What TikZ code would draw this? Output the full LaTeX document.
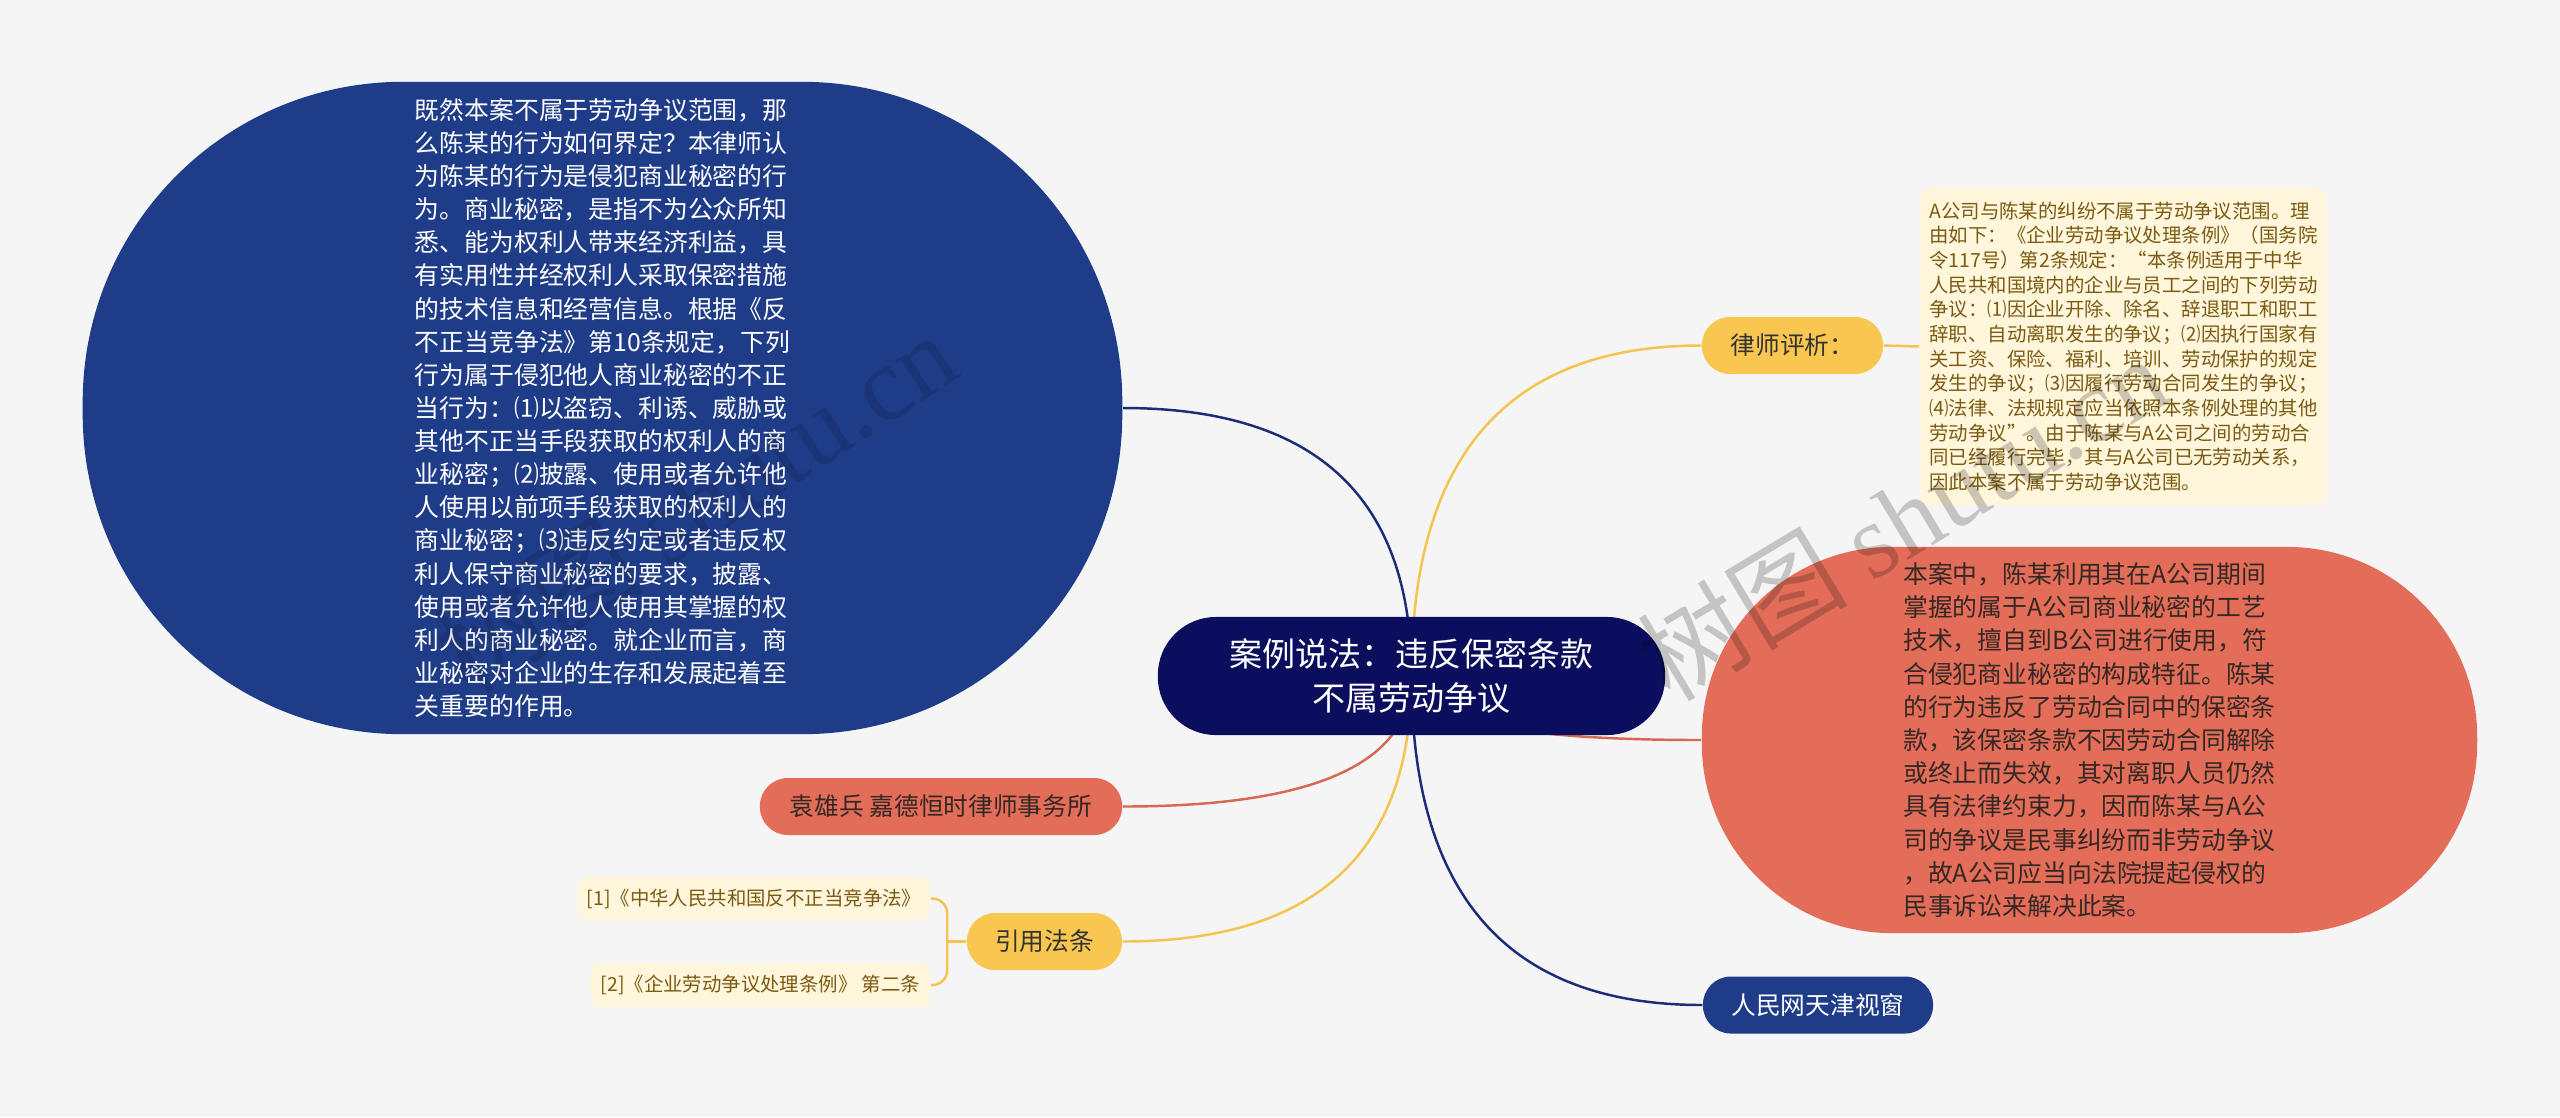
\documentclass[tikz,border=0pt]{standalone}
\usepackage{fontspec}
\setmainfont{Noto Sans CJK SC}
\newfontfamily\markserif{Liberation Serif}
\usetikzlibrary{backgrounds,calc}
\definecolor{canvas}{RGB}{245,245,245}
\definecolor{rootfill}{RGB}{10,14,92}
\definecolor{deepblue}{RGB}{31,60,136}
\definecolor{coral}{RGB}{227,109,88}
\definecolor{amber}{RGB}{249,198,79}
\definecolor{cream}{RGB}{255,246,220}
\definecolor{umber}{RGB}{124,90,18}
\definecolor{ink}{RGB}{51,40,36}
\definecolor{bluelink}{RGB}{27,45,120}
\definecolor{corallink}{RGB}{214,104,84}
\definecolor{amberlink}{RGB}{244,196,78}

\begin{document}
\begin{tikzpicture}[
  x=0.01cm,y=-0.01cm,
  pill/.style={rectangle,inner sep=0pt,align=center},
  root/.style={pill,fill=rootfill,text=white,minimum width=5.07cm,minimum height=1.18cm,
               rounded corners=0.58cm,font=\fontsize{9.39pt}{12.52pt}\selectfont},
  bigblue/.style={pill,fill=deepblue,text=white,align=left,minimum width=10.39cm,
                  minimum height=6.52cm,rounded corners=3.2cm,
                  font=\fontsize{7.06pt}{9.42pt}\selectfont},
  bigcoral/.style={pill,fill=coral,text=ink,align=left,minimum width=7.75cm,
                   minimum height=3.86cm,rounded corners=1.9cm,
                   font=\fontsize{7.06pt}{9.45pt}\selectfont},
  tag/.style={pill,minimum height=0.57cm,rounded corners=0.28cm,
              font=\fontsize{7.03pt}{8.5pt}\selectfont},
  amtag/.style={tag,fill=amber,text=black!80},
  cotag/.style={tag,fill=coral,text=ink},
  bltag/.style={tag,fill=deepblue,text=white},
  note/.style={rectangle,inner sep=0pt,fill=cream,text=umber,rounded corners=0.1cm,
               font=\fontsize{5.52pt}{7.01pt}\selectfont},
  branch/.style={line width=0.7pt},
  wmark/.style={inner sep=0pt,text=black,text opacity=0.2,font=\fontsize{30pt}{32pt}\selectfont}
]
% Root and first-level topics.
\node[root] (root) at (1411.5,676) {案例说法：违反保密条款\\不属劳动争议};

\node[bigblue] (case) at (602.5,408) {既然本案不属于劳动争议范围，那\\
么陈某的行为如何界定？本律师认\\
为陈某的行为是侵犯商业秘密的行\\
为。商业秘密，是指不为公众所知\\
悉、能为权利人带来经济利益，具\\
有实用性并经权利人采取保密措施\\
的技术信息和经营信息。根据《反\\
不正当竞争法》第10条规定，下列\\
行为属于侵犯他人商业秘密的不正\\
当行为：⑴以盗窃、利诱、威胁或\\
其他不正当手段获取的权利人的商\\
业秘密；⑵披露、使用或者允许他\\
人使用以前项手段获取的权利人的\\
商业秘密；⑶违反约定或者违反权\\
利人保守商业秘密的要求，披露、\\
使用或者允许他人使用其掌握的权\\
利人的商业秘密。就企业而言，商\\
业秘密对企业的生存和发展起着至\\
关重要的作用。};

\node[amtag,minimum width=1.81cm] (review) at (1792.5,345.5) {律师评析：};
\node[note,align=left,minimum width=4.07cm,minimum height=3.17cm] (reviewnote) at (2123.5,346.5)
{A公司与陈某的纠纷不属于劳动争议范围。理\\
由如下：《企业劳动争议处理条例》（国务院\\
令117号）第2条规定：“本条例适用于中华\\
人民共和国境内的企业与员工之间的下列劳动\\
争议：⑴因企业开除、除名、辞退职工和职工\\
辞职、自动离职发生的争议；⑵因执行国家有\\
关工资、保险、福利、培训、劳动保护的规定\\
发生的争议；⑶因履行劳动合同发生的争议；\\
⑷法律、法规规定应当依照本条例处理的其他\\
劳动争议”。由于陈某与A公司之间的劳动合\\
同已经履行完毕，其与A公司已无劳动关系，\\
因此本案不属于劳动争议范围。};

\node[bigcoral] (analysis) at (2089.5,740) {本案中，陈某利用其在A公司期间\\
掌握的属于A公司商业秘密的工艺\\
技术，擅自到B公司进行使用，符\\
合侵犯商业秘密的构成特征。陈某\\
的行为违反了劳动合同中的保密条\\
款，该保密条款不因劳动合同解除\\
或终止而失效，其对离职人员仍然\\
具有法律约束力，因而陈某与A公\\
司的争议是民事纠纷而非劳动争议\\
，故A公司应当向法院提起侵权的\\
民事诉讼来解决此案。};

\node[bltag,minimum width=2.30cm] (source) at (1818,1005) {人民网天津视窗};
\node[cotag,minimum width=3.62cm] (author) at (941,806.5) {袁雄兵 嘉德恒时律师事务所};
\node[amtag,minimum width=1.55cm] (cite) at (1044.5,941.5) {引用法条};
\node[note,minimum width=3.52cm,minimum height=0.43cm] (ref1) at (754,898.5)
  {[1]《中华人民共和国反不正当竞争法》};
\node[note,minimum width=3.39cm,minimum height=0.44cm] (ref2) at (760.5,985)
  {[2]《企业劳动争议处理条例》 第二条};

% Branches leave the root vertically and level out at their topic.
\coordinate (bcase)     at (root.center |- case.east);
\coordinate (breview)   at (root.center |- review.west);
\coordinate (banalysis) at (root.center |- analysis.west);
\coordinate (bsource)   at (root.center |- source.west);
\coordinate (bauthor)   at (root.center |- author.east);
\coordinate (bcite)     at (root.center |- cite.east);
\coordinate (fork)      at ($(cite.west)+(-19,0)$);

\begin{scope}[on background layer]
\fill[canvas] (0,0) rectangle (2560,1117);
\draw[branch,bluelink] (root.center)
  .. controls ($(root.center)!.667!(bcase)$) and ($(case.east)!.667!(bcase)$) .. (case.east);
\draw[branch,amberlink] (root.center)
  .. controls ($(root.center)!.667!(breview)$) and ($(review.west)!.667!(breview)$) .. (review.west);
\draw[branch,corallink] (root.center)
  .. controls ($(root.center)!.667!(banalysis)$) and ($(analysis.west)!.667!(banalysis)$) .. (analysis.west);
\draw[branch,bluelink] (root.center)
  .. controls ($(root.center)!.667!(bsource)$) and ($(source.west)!.667!(bsource)$) .. (source.west);
\draw[branch,corallink] (root.center)
  .. controls ($(root.center)!.667!(bauthor)$) and ($(author.east)!.667!(bauthor)$) .. (author.east);
\draw[branch,amberlink] (root.center)
  .. controls ($(root.center)!.667!(bcite)$) and ($(cite.east)!.667!(bcite)$) .. (cite.east);
\draw[branch,amberlink] (review.east) -- (reviewnote.west);
\draw[branch,amberlink] (cite.west) -- (fork);
\draw[branch,amberlink,rounded corners=0.15cm] (fork) |- (ref1.east);
\draw[branch,amberlink,rounded corners=0.15cm] (fork) |- (ref2.east);
\end{scope}

% Site watermark laid over everything.
\node[wmark,text opacity=0.12,rotate=33] (markleft) at (695,502) {树图 {\markserif shutu.cn}};
\node[wmark,rotate=31] (markright) at (1902,517) {树图 {\markserif shutu.cn}};
\end{tikzpicture}
\end{document}
